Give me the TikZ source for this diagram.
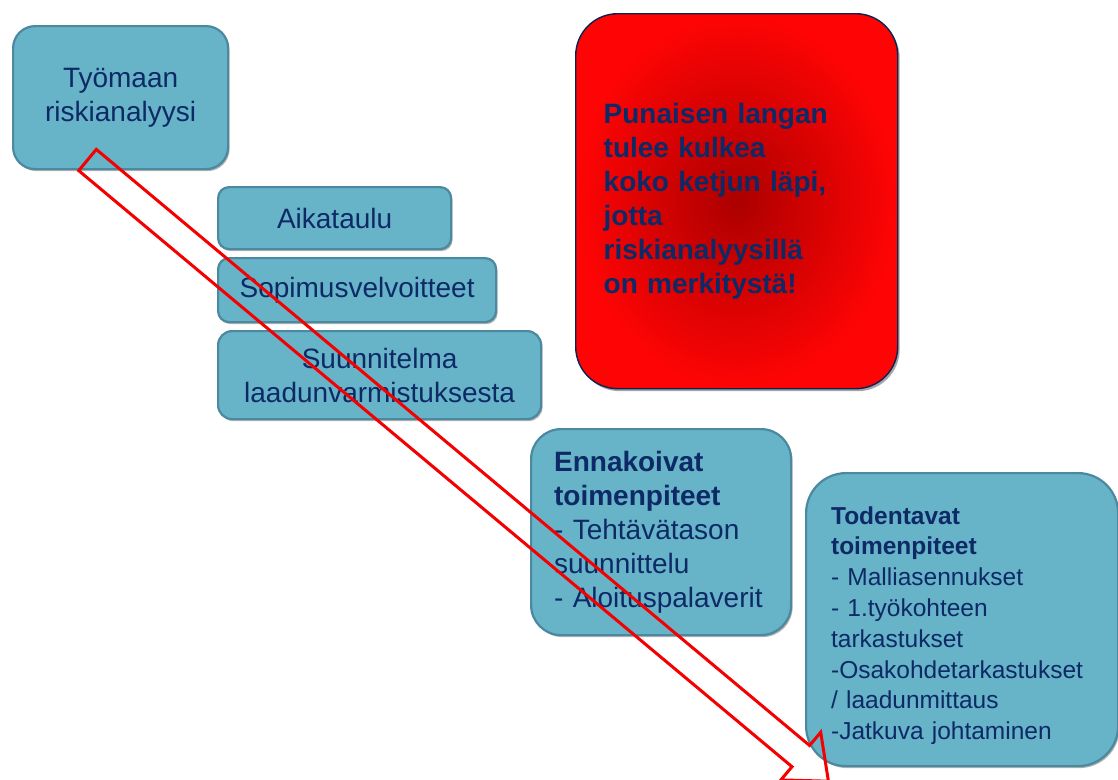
\documentclass[tikz,border=0pt]{standalone}
\usepackage{fontspec}
\setmainfont{Liberation Sans}
\usetikzlibrary{shadows}
\definecolor{boxfill}{RGB}{103,179,200}
\definecolor{boxdraw}{RGB}{75,137,160}
\definecolor{txt}{RGB}{14,42,102}
\definecolor{redin}{RGB}{172,0,0}
\definecolor{redout}{RGB}{255,4,4}
\definecolor{redline}{RGB}{245,0,0}
\tikzset{
  bluebox/.style={draw=boxdraw, line width=2.2pt, fill=boxfill, text=txt,
    anchor=north west, inner sep=0pt,
    drop shadow={shadow xshift=1.5pt, shadow yshift=-2pt, opacity=0.3, fill=black}},
  bigfont/.style={font=\fontsize{28}{34}\selectfont},
  smallfont/.style={font=\fontsize{24.5}{30.8}\selectfont},
  redbox/.style={draw=txt!80!black, line width=1.4pt, inner color=redin, outer color=redout,
    text=txt, anchor=north west, rounded corners=42pt, align=left,
    drop shadow={shadow xshift=2pt, shadow yshift=-2.5pt, opacity=0.35, fill=black}},
  hollowarrow/.style={draw=redline, line width=3pt, line join=miter},
}
\begin{document}
\begin{tikzpicture}[x=1pt,y=-1pt]
\useasboundingbox (0,0) rectangle (1118,779);
% boxes
\node[bluebox, bigfont, rounded corners=22pt, minimum width=215pt, minimum height=143pt, align=center]
  (tyomaa) at (12,25) {Työmaan\\riskianalyysi};
\node[bluebox, bigfont, rounded corners=11pt, minimum width=233pt, minimum height=62pt, align=center]
  (aika) at (217,186) {Aikataulu};
\node[bluebox, bigfont, rounded corners=11pt, minimum width=278pt, minimum height=64pt, align=center]
  (sopimus) at (217,257) {Sopimusvelvoitteet};
\node[bluebox, bigfont, rounded corners=14pt, minimum width=323pt, minimum height=88pt, align=center]
  (suunn) at (217,330) {Suunnitelma\\laadunvarmistuksesta};
\node[redbox, font=\fontsize{28}{34}\selectfont\bfseries, inner xsep=28pt, text width=266pt,
  minimum height=375pt] (punainen) at (575,13)
  {Punaisen langan\\tulee kulkea\\koko ketjun läpi,\\jotta\\riskianalyysillä\\on merkitystä!};
\node[bluebox, bigfont, rounded corners=30pt, inner xsep=23pt, text width=214pt,
  minimum height=206pt, align=left] (ennak) at (530,428)
  {\textbf{Ennakoivat}\\\textbf{toimenpiteet}\\- Tehtävätason\\suunnittelu\\- Aloituspalaverit};
\node[bluebox, smallfont, rounded corners=40pt, inner xsep=25pt, text width=262pt,
  minimum height=293pt, align=left] (todent) at (805,472)
  {\mbox{}\\[-1pt]\textbf{Todentavat}\\\textbf{toimenpiteet}\\- Malliasennukset\\- 1.työkohteen\\tarkastukset\\-Osakohdetarkastukset\\/ laadunmittaus\\-Jatkuva johtaminen};
% hollow block arrow
\coordinate (t1) at (96.3,149.4);
\coordinate (s1) at (809.6,745.5);
\coordinate (b1) at (820.7,732.3);
\coordinate (tip) at (828.4,781.2);
\coordinate (b2) at (780.9,779.9);
\coordinate (s2) at (792.0,766.7);
\coordinate (t2) at (78.7,170.6);
\draw[hollowarrow] (t1) -- (s1) -- (b1) -- (tip) -- (b2) -- (s2) -- (t2) -- cycle;
\end{tikzpicture}
\end{document}
